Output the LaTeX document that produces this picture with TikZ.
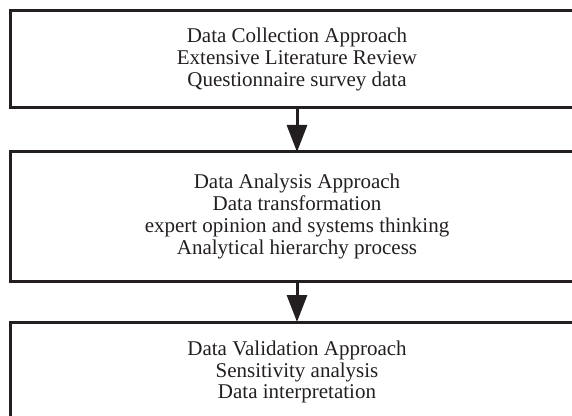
\documentclass[tikz,border=0pt]{standalone}
\usepackage{fontspec}
\setmainfont{Liberation Serif}
\usepackage{xcolor}
\usepackage{tikz}
\usetikzlibrary{arrows.meta,positioning}
\definecolor{ink}{HTML}{231F20}
\tikzset{
  StageBox/.style={
    draw=ink, line width=3pt, text=ink,
    minimum width=574pt, outer sep=0pt,
    align=center,
    font=\fontsize{21}{21.8}\selectfont
  },
  FlowArrow/.style={
    draw=ink, line width=3pt,
    -{Triangle[length=27pt,width=20pt]}
  }
}
\begin{document}
\begin{tikzpicture}[x=1pt, y=1pt, line join=miter]
  \useasboundingbox (0,0) rectangle (572,415);
  \clip (0,0) rectangle (572,415);

  \node[StageBox, minimum height=97pt] (collect) at (297,355.5)
    {Data Collection Approach\\Extensive Literature Review\\Questionnaire survey data};
  \node[StageBox, minimum height=129pt] (analyse) at (297,198.5)
    {Data Analysis Approach\\Data transformation\\expert opinion and systems thinking\\Analytical hierarchy process};
  \node[StageBox, minimum height=100pt] (validate) at (297,43)
    {Data Validation Approach\\Sensitivity analysis\\Data interpretation};

  % stage arrows
  \draw[FlowArrow] (collect) -- (analyse);
  \draw[FlowArrow] (analyse) -- (validate);
\end{tikzpicture}
\end{document}
